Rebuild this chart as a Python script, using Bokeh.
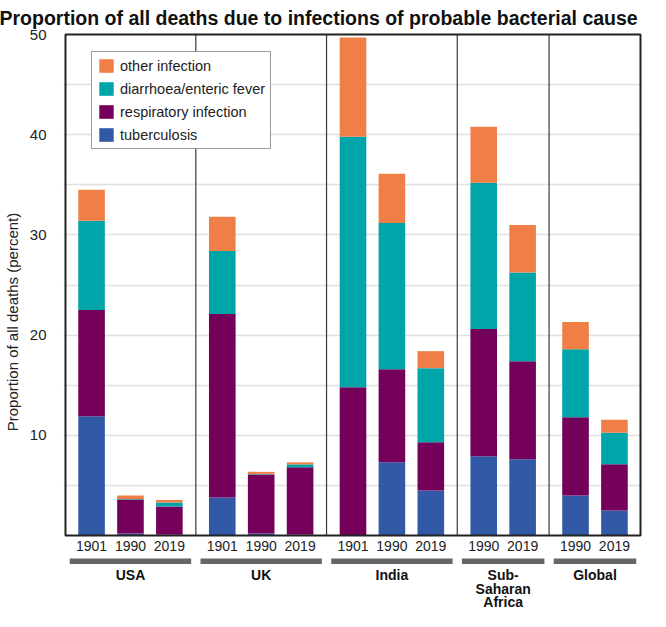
from bokeh.plotting import figure
from bokeh.models import (FixedTicker, Legend, LegendItem, ColumnDataSource, Range1d)
from bokeh.core.properties import value
from bokeh.embed import file_html
from bokeh.resources import INLINE

# ---------------- data ----------------
groups = ["USA", "UK", "India", "Sub-\nSaharan\nAfrica", "Global"]
group_years = [["1901", "1990", "2019"],
               ["1901", "1990", "2019"],
               ["1901", "1990", "2019"],
               ["1990", "2019"],
               ["1990", "2019"]]
tuberculosis = [11.9, 0.2, 0.1, 3.8, 0.2, 0.1, 0.0, 7.3, 4.5, 7.9, 7.6, 4.0, 2.5]
respiratory = [10.6, 3.4, 2.8, 18.3, 5.9, 6.7, 14.8, 9.3, 4.8, 12.7, 9.8, 7.8, 4.6]
diarrhoea = [8.9, 0.05, 0.4, 6.3, 0.05, 0.3, 25.0, 14.6, 7.4, 14.6, 8.85, 6.8, 3.15]
other = [3.1, 0.35, 0.25, 3.4, 0.2, 0.2, 9.9, 4.9, 1.7, 5.6, 4.75, 2.7, 1.3]
series = ["tuberculosis", "respiratory", "diarrhoea", "other"]
series_labels = ["tuberculosis", "respiratory infection", "diarrhoea/enteric fever", "other infection"]
colors = ["#3159A6", "#74005A", "#00A5AA", "#F07F47"]
y_ticks = [10, 20, 30, 40, 50]
grid_ticks = [5, 10, 15, 20, 25, 30, 35, 40, 45]
y_max = 50

# ---------------- layout ----------------
W, H = 650, 611
FL, FR, FT, FB = 61, 8, 32, 0
frame_w = W - FL - FR
frame_h = H - FT - FB
PY = 501 / 50       # px per percent
GAP = 1.36          # distance between last bar of a group and first of the next
EDGE = 0.67
BAR_W = 0.684

xs, years, g_first, g_last = [], [], [], []
cur = 0.0
for gi, yrs in enumerate(group_years):
    if gi > 0:
        cur += GAP - 1
    g_first.append(cur)
    for yr in yrs:
        xs.append(cur)
        years.append(yr)
        cur += 1
    g_last.append(cur - 1)
g_center = [(a + b) / 2 for a, b in zip(g_first, g_last)]
seps = [(g_last[i] + g_first[i + 1]) / 2 for i in range(len(g_first) - 1)]

box_left = xs[0] - EDGE
box_right = xs[-1] + EDGE
span = box_right - box_left
PX = (frame_w - 4) / span
x_range = Range1d(box_left - 2 / PX, box_right + 2 / PX)
y_end = y_max + 2 / PY
y_range = Range1d(y_end - frame_h / PY, y_end)

FONT = "Liberation Sans"

p = figure(width=W, height=H, x_range=x_range, y_range=y_range,
           output_backend="svg", toolbar_location=None,
           x_axis_location=None, y_axis_location="left",
           min_border_left=FL, min_border_right=FR, min_border_top=FT, min_border_bottom=FB)
p.outline_line_color = None
p.background_fill_color = "white"
p.border_fill_color = "white"

p.title.text = "Proportion of all deaths due to infections of probable bacterial cause"
p.title.text_font = FONT
p.title.text_font_size = "19.5px"
p.title.text_font_style = "bold"
p.title.text_color = "#111111"
p.title.align = "left"
p.title.offset = -(FL + 3)
p.title.standoff = 8

# grid
p.xgrid.visible = False
p.ygrid.ticker = FixedTicker(ticks=grid_ticks)
p.ygrid.grid_line_color = "#e0e0e0"
p.ygrid.grid_line_width = 1.3

# y axis
p.yaxis.ticker = FixedTicker(ticks=y_ticks)
p.yaxis.axis_line_color = None
p.yaxis.major_tick_line_color = None
p.yaxis.minor_tick_line_color = None
p.yaxis.major_label_text_font = FONT
p.yaxis.major_label_text_font_size = "15px"
p.yaxis.major_label_text_color = "#222222"
p.yaxis.major_label_standoff = 11
p.yaxis.axis_label = "Proportion of all deaths (percent)"
p.yaxis.axis_label_text_font = FONT
p.yaxis.axis_label_text_font_size = "15px"
p.yaxis.axis_label_text_font_style = "normal"
p.yaxis.axis_label_text_color = "#222222"
p.yaxis.axis_label_standoff = 6

# bars
src = ColumnDataSource(dict(x=xs, tuberculosis=tuberculosis, respiratory=respiratory,
                            diarrhoea=diarrhoea, other=other))
rends = p.vbar_stack(series, x="x", width=BAR_W, color=colors, source=src, line_width=0)

# separators and frame box
p.segment(x0=seps, y0=[0] * len(seps), x1=seps, y1=[y_max] * len(seps),
          line_color="#3a3a3a", line_width=1.2)
p.quad(left=[box_left], right=[box_right], bottom=[0], top=[y_max],
       fill_color=None, line_color="#222222", line_width=2)

# year labels
p.text(x=xs, y=[-10.5 / PY] * len(xs), text=years, text_font=value(FONT),
       text_font_size="14px", text_align="center", text_baseline="middle",
       text_color="#222222")

# gray group bars
p.quad(left=[a - 0.56 for a in g_first], right=[b + 0.56 for b in g_last],
       bottom=[-28.5 / PY] * len(g_first), top=[-23 / PY] * len(g_first),
       fill_color="#666666", line_color=None)

# group labels
p.text(x=g_center, y=[-31.5 / PY] * len(g_center), text=groups, text_font=value(FONT),
       text_font_size="14px", text_font_style="bold", text_align="center",
       text_baseline="top", text_line_height=0.85, text_color="#111111")

# legend
items = [LegendItem(label=series_labels[i], renderers=[rends[i]]) for i in range(3, -1, -1)]
legend = Legend(items=items, location=(28, 462), orientation="vertical")
legend.glyph_width = 18
legend.glyph_height = 17
legend.label_height = 17
legend.spacing = 6
legend.padding = 5
legend.margin = 0
legend.label_standoff = 5
legend.label_text_font = FONT
legend.label_text_font_size = "14.5px"
legend.label_text_color = "#222222"
legend.border_line_color = "#333333"
legend.border_line_width = 1.5
legend.background_fill_alpha = 1
p.add_layout(legend, "center")

open("out.html", "w").write(file_html(p, INLINE))
